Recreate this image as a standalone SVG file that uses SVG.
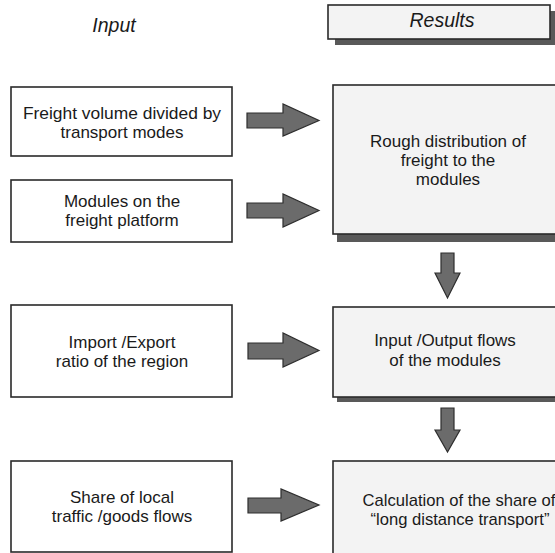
<svg xmlns="http://www.w3.org/2000/svg" width="555" height="553" viewBox="0 0 555 553">
  <style>
    .hdr { font-family: "Liberation Sans", Arial, sans-serif; font-style: italic; font-size: 19.5px; fill: #1a1a1a; text-anchor: middle; }
    .lbl { font-family: "Liberation Sans", Arial, sans-serif; font-size: 17px; fill: #1a1a1a; text-anchor: middle; }
    .inbox { fill: #ffffff; stroke: #2a2a2a; stroke-width: 1.6; }
    .resbox { fill: #f3f3f3; stroke: #2a2a2a; stroke-width: 1.6; }
    .shadow { fill: #595959; }
    .arrow { fill: #6b6b6b; stroke: #2e2e2e; stroke-width: 1.2; stroke-linejoin: miter; }
  </style>
  <rect width="555" height="553" fill="#ffffff"/>

  <!-- column headings -->
  <g id="heading-input">
    <text class="hdr" x="114" y="32">Input</text>
  </g>
  <g id="heading-results">
    <rect class="shadow" x="335" y="11" width="222" height="34"/>
    <rect class="resbox" x="328" y="5" width="222" height="34"/>
    <text class="hdr" x="442" y="27">Results</text>
  </g>

  <!-- input boxes -->
  <g id="in-freight-volume">
    <rect class="inbox" x="11" y="87" width="221" height="69"/>
    <text class="lbl" x="122" y="119" style="font-size:17.4px">Freight volume divided by</text>
    <text class="lbl" x="122" y="138">transport modes</text>
  </g>
  <g id="in-modules">
    <rect class="inbox" x="11" y="180" width="221" height="62"/>
    <text class="lbl" x="122" y="206.5">Modules on the</text>
    <text class="lbl" x="122" y="226">freight platform</text>
  </g>
  <g id="in-import-export">
    <rect class="inbox" x="11" y="305" width="221" height="92"/>
    <text class="lbl" x="122" y="347.5">Import /Export</text>
    <text class="lbl" x="122" y="367">ratio of the region</text>
  </g>
  <g id="in-local-share">
    <rect class="inbox" x="11" y="461" width="221" height="91"/>
    <text class="lbl" x="122" y="502.5">Share of local</text>
    <text class="lbl" x="122" y="522">traffic /goods flows</text>
  </g>

  <!-- result boxes -->
  <g id="res-distribution">
    <rect class="shadow" x="337" y="91" width="230" height="151"/>
    <rect class="resbox" x="333" y="85" width="230" height="149"/>
    <text class="lbl" x="448" y="146.5">Rough distribution of</text>
    <text class="lbl" x="448" y="166">freight to the</text>
    <text class="lbl" x="448" y="185">modules</text>
  </g>
  <g id="res-io-flows">
    <rect class="shadow" x="337" y="312" width="230" height="90"/>
    <rect class="resbox" x="333" y="307" width="230" height="90"/>
    <text class="lbl" x="445" y="346">Input /Output flows</text>
    <text class="lbl" x="445" y="365.5">of the modules</text>
  </g>
  <g id="res-long-distance">
    <rect class="resbox" x="333" y="461" width="240" height="100"/>
    <text class="lbl" x="459" y="505.5" style="font-size:16.6px">Calculation of the share of</text>
    <text class="lbl" x="460" y="525" style="font-size:16.6px">“long distance transport”</text>
  </g>

  <!-- connectors: block arrows -->
  <g id="connectors">
    <polygon class="arrow" points="247,113 283,113 283,104 319,120.5 283,136 283,128 247,128"/>
    <polygon class="arrow" points="247,203 283,203 283,194 319,210.5 283,227 283,218 247,218"/>
    <polygon class="arrow" points="248,343 283,343 283,333 319,350.5 283,367 283,359 248,359"/>
    <polygon class="arrow" points="248,498 281,498 281,489 319,505 281,521 281,513 248,513"/>
    <polygon class="arrow" points="441,253 454,253 454,273 460,273 447.5,298 435,273 441,273"/>
    <polygon class="arrow" points="441,408 454,408 454,430 460,430 447.5,452 435,430 441,430"/>
  </g>
</svg>
